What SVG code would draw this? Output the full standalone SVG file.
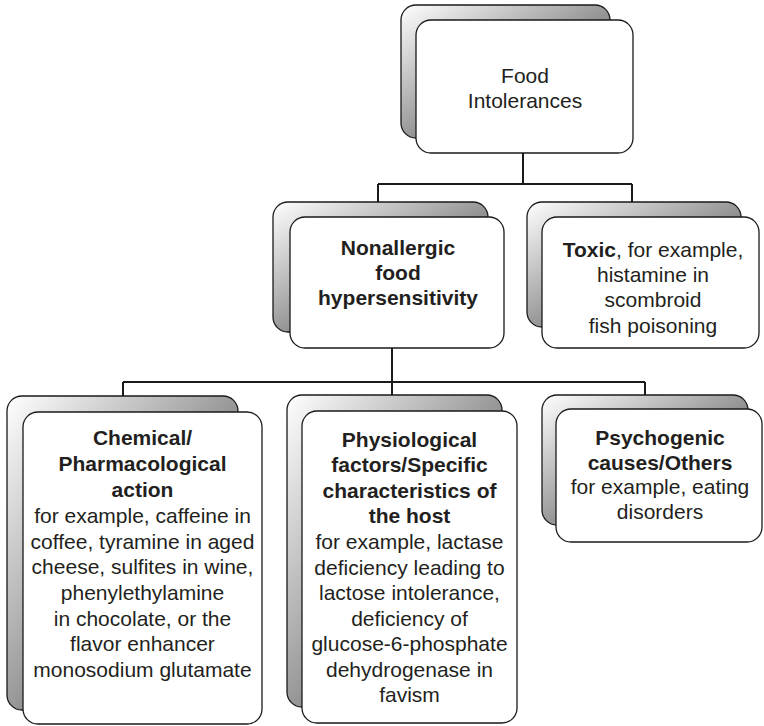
<svg xmlns="http://www.w3.org/2000/svg" width="764" height="726" viewBox="0 0 764 726">
<defs>
<linearGradient id="sh" x1="0" y1="0" x2="1" y2="1">
<stop offset="0" stop-color="#ffffff"/>
<stop offset="1" stop-color="#333333"/>
</linearGradient>
<style>
.back{fill:url(#sh);stroke:#1a1a1a;stroke-width:1.3}
.front{fill:#ffffff;stroke:#1a1a1a;stroke-width:1.3}
text{font-family:"Liberation Sans",Arial,Helvetica,sans-serif;font-size:21px;fill:#231f20;text-anchor:middle}
.b{font-weight:bold}
.conn{fill:none;stroke:#1a1a1a;stroke-width:2}
</style>
</defs>
<rect width="764" height="726" fill="#ffffff"/>
<g id="connectors" class="conn">
<path d="M523,153 V184 M378,184 H632 M378,184 V202 M632,184 V202"/>
<path d="M392,348 V382 M123,382 H645 M123,382 V396 M392,382 V395 M645,382 V395"/>
</g>
<g id="food">
<rect class="back" x="401" y="5" width="209" height="133" rx="15"/>
<rect class="front" x="416" y="20" width="217" height="133" rx="15"/>
<text x="525" y="83">Food</text>
<text x="525" y="108">Intolerances</text>
</g>
<g id="nonallergic">
<rect class="back" x="273" y="202" width="215" height="130" rx="15"/>
<rect class="front" x="290" y="217" width="214" height="131" rx="15"/>
<text class="b" x="398" y="255">Nonallergic</text>
<text class="b" x="398" y="280">food</text>
<text class="b" x="398" y="305">hypersensitivity</text>
</g>
<g id="toxic">
<rect class="back" x="527" y="202" width="214" height="125" rx="15"/>
<rect class="front" x="542" y="217" width="217" height="131" rx="15"/>
<text x="653" y="257"><tspan class="b">Toxic</tspan>, for example,</text>
<text x="653" y="282">histamine in</text>
<text x="653" y="307">scombroid</text>
<text x="653" y="333">fish poisoning</text>
</g>
<g id="chemical">
<rect class="back" x="7" y="396" width="231" height="314" rx="15"/>
<rect class="front" x="23" y="412" width="239" height="312" rx="15"/>
<text class="b" x="142.5" y="445">Chemical/</text>
<text class="b" x="142.5" y="471">Pharmacological</text>
<text class="b" x="142.5" y="497">action</text>
<text x="142.5" y="523">for example, caffeine in</text>
<text x="142.5" y="549">coffee, tyramine in aged</text>
<text x="142.5" y="574">cheese, sulfites in wine,</text>
<text x="142.5" y="600">phenylethylamine</text>
<text x="142.5" y="626">in chocolate, or the</text>
<text x="142.5" y="651">flavor enhancer</text>
<text x="142.5" y="677">monosodium glutamate</text>
</g>
<g id="physiological">
<rect class="back" x="287" y="395" width="215" height="312" rx="15"/>
<rect class="front" x="302" y="411" width="215" height="312" rx="15"/>
<text class="b" x="409.5" y="447">Physiological</text>
<text class="b" x="409.5" y="472">factors/Specific</text>
<text class="b" x="409.5" y="498">characteristics of</text>
<text class="b" x="409.5" y="523">the host</text>
<text x="409.5" y="549">for example, lactase</text>
<text x="409.5" y="575">deficiency leading to</text>
<text x="409.5" y="600">lactose intolerance,</text>
<text x="409.5" y="626">deficiency of</text>
<text x="409.5" y="651">glucose-6-phosphate</text>
<text x="409.5" y="677">dehydrogenase in</text>
<text x="409.5" y="702">favism</text>
</g>
<g id="psychogenic">
<rect class="back" x="542" y="395" width="206" height="130" rx="15"/>
<rect class="front" x="556" y="409" width="206" height="133" rx="15"/>
<text class="b" x="660" y="445">Psychogenic</text>
<text class="b" x="660" y="470">causes/Others</text>
<text x="660" y="494">for example, eating</text>
<text x="660" y="519">disorders</text>
</g>
</svg>
